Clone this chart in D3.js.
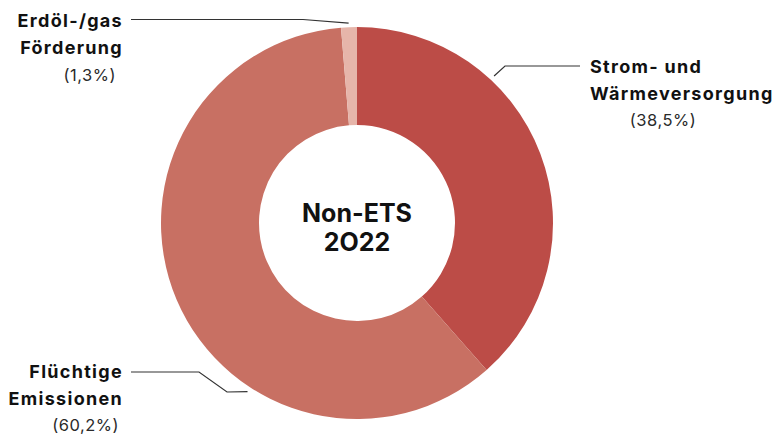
<!DOCTYPE html>
<html><head><meta charset="utf-8">
<script src="https://cdn.jsdelivr.net/npm/d3@7"></script>
<style>
html,body{margin:0;padding:0;background:#fff;}
svg{display:block;font-family:"Inter","Open Sans",sans-serif;}
</style></head>
<body><svg id="c" width="782" height="437"></svg>
<script>
const categories = ["Strom- und Wärmeversorgung", "Flüchtige Emissionen", "Erdöl-/gas Förderung"];
const values = [38.5, 60.2, 1.3];
const valueLabels = ["(38,5%)", "(60,2%)", "(1,3%)"];
const colors = ["#bc4c47", "#c87063", "#e6b5aa"];
const centerTitle = ["Non-ETS", "2O22"];

const svg = d3.select("#c");
const cx = 357, cy = 223, R = 196, r0 = 98;
const g = svg.append("g").attr("transform", `translate(${cx},${cy})`);

const pie = d3.pie().sort(null).value(d => d)(values);
const arc = d3.arc().innerRadius(r0).outerRadius(R);
g.selectAll("path.slice").data(pie).join("path")
  .attr("class","slice")
  .attr("d", arc)
  .attr("fill", (d,i) => colors[i]);

// center text
g.append("text").attr("text-anchor","middle").attr("font-weight",700).attr("font-size",25)
  .attr("fill","#111")
  .selectAll("tspan").data(centerTitle).join("tspan")
  .attr("x",0).attr("y",(d,i)=> -1 + i*29).text(d=>d);

// label layout (annotation placement)
const layout = [
  { angle: 43, rad: 201, path: [[505,66],[580,66]], anchor:"start",
    lines:[{t:"Strom- und",x:590,y:73},{t:"Wärmeversorgung",x:590,y:100}], pct:{x:663,y:126,anchor:"middle"} },
  { angle: 213, rad: 201, path: [[227,392],[199,372],[131,372]], anchor:"end",
    lines:[{t:"Flüchtige",x:123,y:378},{t:"Emissionen",x:123,y:405}], pct:{x:119,y:431,anchor:"end"} },
  { angle: 357.6, rad: 200, path: [[303,19.5],[131,19.5]], anchor:"end",
    lines:[{t:"Erdöl-/gas",x:123,y:27},{t:"Förderung",x:123,y:54}], pct:{x:116,y:81,anchor:"end"} }
];

layout.forEach((L,i) => {
  const a = L.angle*Math.PI/180;
  const start = [cx + L.rad*Math.sin(a), cy - L.rad*Math.cos(a)];
  const pts = [start, ...L.path];
  svg.append("path").attr("d", d3.line()(pts)).attr("fill","none")
    .attr("stroke","#333").attr("stroke-width",1.2);
  L.lines.forEach(ln => {
    svg.append("text").attr("x",ln.x).attr("y",ln.y).attr("text-anchor",L.anchor)
      .attr("font-weight",700).attr("font-size",18).attr("letter-spacing",1.3)
      .attr("fill","#111").text(ln.t);
  });
  svg.append("text").attr("x",L.pct.x).attr("y",L.pct.y).attr("text-anchor",L.pct.anchor)
    .attr("font-weight",400).attr("font-size",16.5).attr("letter-spacing",0.5)
    .attr("fill","#2a2a2a").text(valueLabels[i]);
});
</script></body></html>
